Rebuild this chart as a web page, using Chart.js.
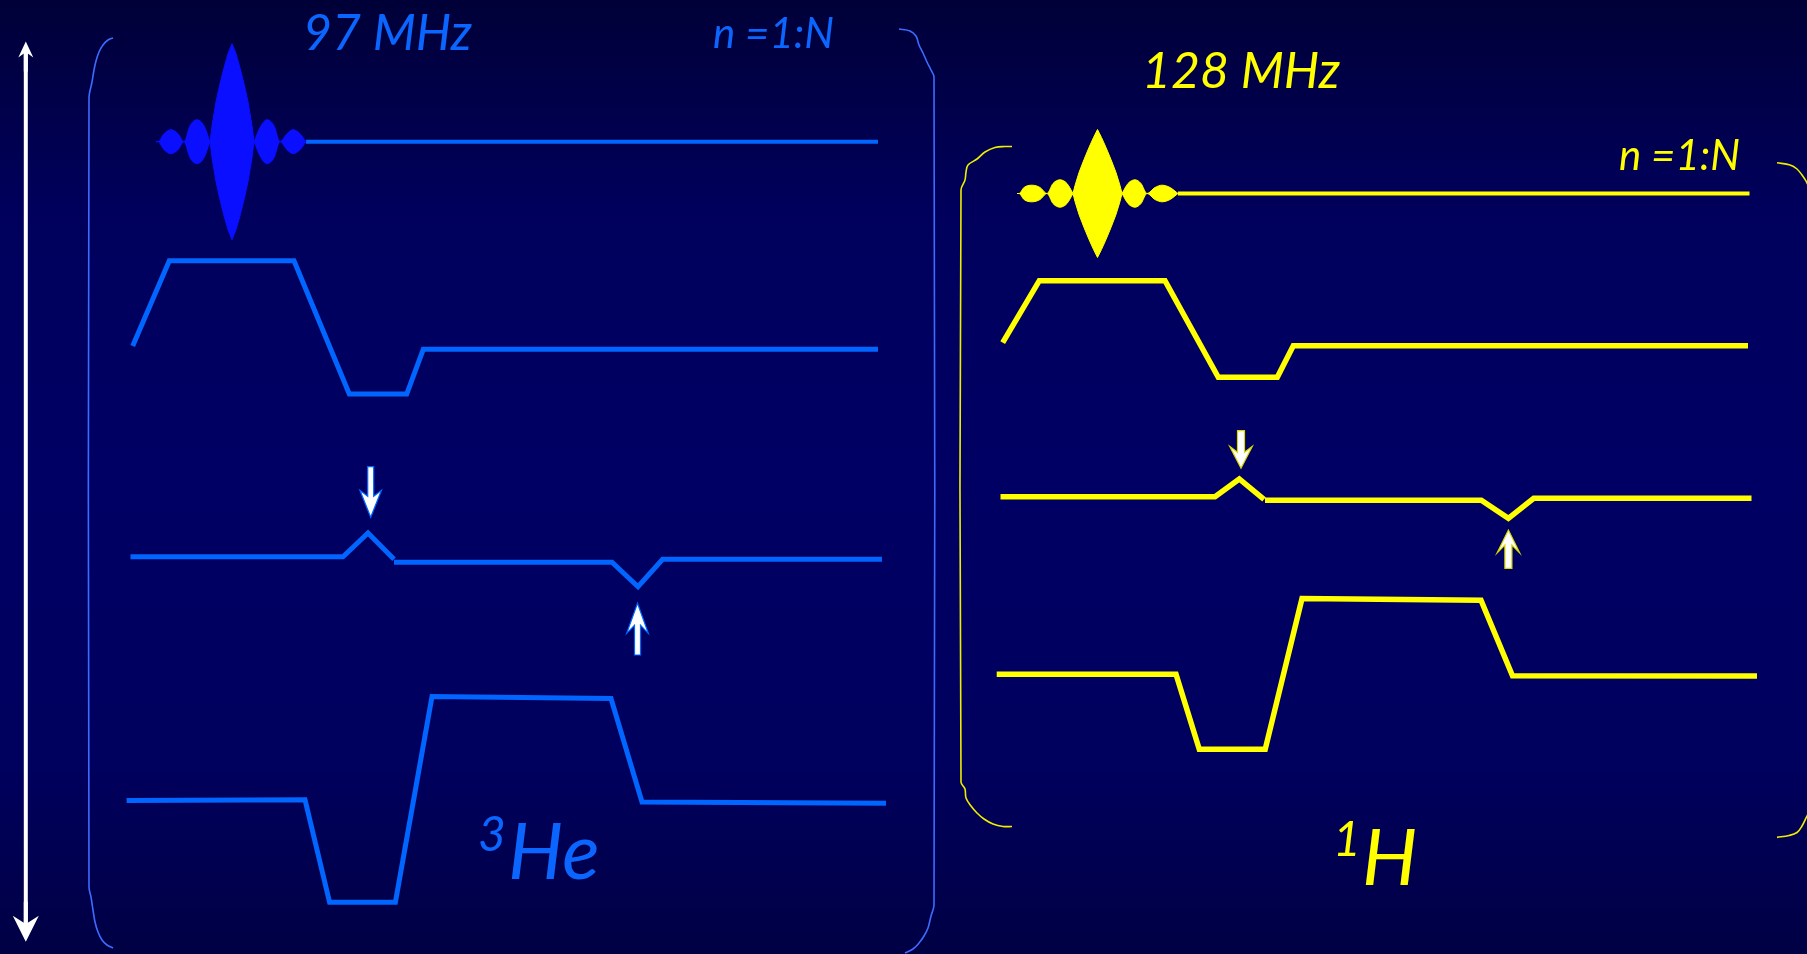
<!DOCTYPE html>
<html>
<head>
<meta charset="utf-8">
<script src="https://cdn.jsdelivr.net/npm/chart.js@4.4.1/dist/chart.umd.min.js"></script>
<style>
  html, body { margin: 0; padding: 0; overflow: hidden; background: #00005a; }
  #wrap { width: 1807px; height: 954px; position: relative; }
</style>
</head>
<body>
<div id="wrap"><canvas id="seq"></canvas></div>
<script>
// Pulse-sequence diagram. x = time axis, y = vertical position on the page (downwards).

// ---------- 3He channel (97 MHz, blue) ----------
// RF envelope: side lobes are rounded, the main lobe is lens shaped with pointed ends
const heRfSideT   = [156,158,164,171,178,184,190,197,204,210];
const heRfSideEnv = [0,0,8,12,8,0,16,22,16,0];
const heRfMainT   = [210,212,216,220,224,228,232,236,240,244,248,252,254];
const heRfMainEnv = [0,16,40,58,74,88,98,88,74,58,40,16,0];
const heRfTailT   = [254,261,267,274,280,287,293,300,306];
const heRfTailEnv = [0,16,22,16,0,8,12,8,0];
const heRfBase  = 141.7;
const heRfLineT = [306, 878];

const heGradT = [132.7, 169.3, 294, 349.3, 406.7, 423.3, 878];
const heGradY = [346, 260.7, 260.7, 394, 394, 349.3, 349.3];

const heEchoT = [130.5, 343, 368, 394, 394, 394, 612, 638, 662.6, 882];
const heEchoY = [556.7, 556.7, 533, 559.3, null, 562.3, 562.3, 586.7, 559.3, 559.3];

const heReadT = [126.6, 305, 329.6, 395.4, 432, 611, 642, 886];
const heReadY = [800.5, 799.7, 902.3, 902.3, 696.5, 698.5, 802, 803.3];

const heBraceLT = [113, 108, 103, 99, 96, 94, 92, 89, 89, 91, 93, 95, 98, 102, 107, 113];
const heBraceLY = [38, 40, 45, 52, 61, 70, 82, 98, 887, 897, 910, 922, 932, 940, 945, 948];
const heBraceRT = [899, 910, 916, 919, 923, 927, 931, 934, 934, 931, 928, 924, 919, 913, 905];
const heBraceRY = [29, 31, 36, 45, 53, 62, 70, 77, 905, 916, 928, 936, 943, 949, 953];

const heMarkT    = [370.7, 637.5];
const heMarkTip  = [517.3, 603.3];
const heMarkTail = [466.7, 655];

// ---------- 1H channel (128 MHz, yellow) ----------
const hRfSideT   = [1017,1019,1024,1032,1040,1047,1053,1060,1067,1073];
const hRfSideEnv = [0,0,6,8.3,6,0,10,13.7,10,0];
const hRfMainT   = [1073,1075,1079,1084,1089,1093.5,1097.5,1101.5,1106,1111,1116,1120,1122];
const hRfMainEnv = [0,8,21,34,46,56,64,56,46,34,21,8,0];
const hRfTailT   = [1122,1128,1135,1141,1147,1155,1162,1170,1178];
const hRfTailEnv = [0,10,13.7,10,0,6,8.3,6,0];
const hRfBase  = 193.5;
const hRfLineT = [1178, 1749.5];

const hGradT = [1002.7, 1039.3, 1165, 1218.3, 1277.3, 1293.3, 1748];
const hGradY = [342.7, 280.7, 280.7, 377.3, 377.3, 345.7, 345.7];

const hEchoT = [1000.5, 1215, 1239.3, 1264, 1265, 1265, 1481.3, 1508.4, 1533.7, 1751.5];
const hEchoY = [496.7, 496.7, 479, 499.3, null, 500.3, 500.3, 518.3, 498.3, 498.3];

const hReadT = [996.7, 1176, 1199.3, 1265.2, 1302, 1481, 1512.5, 1757];
const hReadY = [674.3, 674.3, 749.3, 749.3, 598.5, 600.3, 675.7, 676];

const hBraceLT = [1012, 1005, 995, 985, 977, 968, 966, 965, 961, 961, 965, 966, 971, 977, 984, 993, 1003, 1012];
const hBraceLY = [146.5, 146.5, 147.5, 152, 159, 165, 172, 180, 190, 782, 789, 798, 806, 813, 819, 824, 826.5, 826.5];
const hBraceRT = [1777, 1790, 1797, 1802, 1806, 1810, 1810, 1806, 1802, 1797, 1789, 1777];
const hBraceRY = [162.7, 165, 169, 175, 181, 192, 808, 818, 826, 832.5, 835.5, 837.4];

const hMarkT    = [1241, 1508.4];
const hMarkTip  = [468.3, 530];
const hMarkTail = [430.7, 568.3];

// ---------- Labels ----------
const labels = [
  { text: '97 MHz',  t: 303,  y: 50,  size: 50, color: '#0a66ff' },
  { text: 'n =1:N',  t: 713,  y: 48,  size: 42, color: '#0a66ff' },
  { text: '128 MHz', t: 1142, y: 88,  size: 50, color: '#ffff00' },
  { text: 'n =1:N',  t: 1619, y: 170, size: 42, color: '#ffff00' }
];
const nuclei = [
  { sup: '3', base: 'He', t: 478,  supY: 851, baseT: 508,  y: 879, color: '#0a66ff' },
  { sup: '1', base: 'H',  t: 1333, supY: 856, baseT: 1362, y: 885, color: '#ffff00' }
];

// Time axis arrow on the left
const axisT = 25.8, axisTop = 41.4, axisBottom = 941.8;

const BLUE = '#0066ff', BLUE_RF = '#0a0fff', BLUE_BRACE = '#3d6bff';
const YELLOW = '#ffff00', YELLOW_BRACE = '#eeee00';

function pts(xs, ys) { return xs.map((x, i) => ({ x: x, y: ys[i] })); }

function trace(xs, ys, color, width) {
  return {
    data: pts(xs, ys), borderColor: color, borderWidth: width, fill: false,
    tension: 0, spanGaps: false, clip: false, pointRadius: 0,
    borderJoinStyle: 'miter', borderCapStyle: 'butt'
  };
}
function brace(xs, ys, color) {
  return {
    data: pts(xs, ys), borderColor: color, borderWidth: 1.6, fill: false,
    tension: 0.35, clip: false, pointRadius: 0
  };
}
// filled envelope between base-env and base+env
function rfPulse(ts, env, base, color, smooth) {
  const common = {
    borderColor: color, borderWidth: 1, clip: false, pointRadius: 0,
    cubicInterpolationMode: smooth ? 'monotone' : 'default', tension: 0
  };
  return [
    Object.assign({ data: ts.map((t, i) => ({ x: t, y: base - env[i] })), backgroundColor: color, fill: '+1' }, common),
    Object.assign({ data: ts.map((t, i) => ({ x: t, y: base + env[i] })), fill: false }, common)
  ];
}

const datasets = [
  brace(heBraceLT, heBraceLY, BLUE_BRACE),
  brace(heBraceRT, heBraceRY, BLUE_BRACE),
  brace(hBraceLT, hBraceLY, YELLOW_BRACE),
  brace(hBraceRT, hBraceRY, YELLOW_BRACE),
  ...rfPulse(heRfSideT, heRfSideEnv, heRfBase, BLUE_RF, true),
  ...rfPulse(heRfMainT, heRfMainEnv, heRfBase, BLUE_RF, false),
  ...rfPulse(heRfTailT, heRfTailEnv, heRfBase, BLUE_RF, true),
  trace(heRfLineT, [heRfBase, heRfBase], BLUE, 4),
  trace(heGradT, heGradY, BLUE, 5),
  trace(heEchoT, heEchoY, BLUE, 5),
  trace(heReadT, heReadY, BLUE, 5),
  ...rfPulse(hRfSideT, hRfSideEnv, hRfBase, YELLOW, true),
  ...rfPulse(hRfMainT, hRfMainEnv, hRfBase, YELLOW, false),
  ...rfPulse(hRfTailT, hRfTailEnv, hRfBase, YELLOW, true),
  trace(hRfLineT, [hRfBase, hRfBase], YELLOW, 4),
  trace(hGradT, hGradY, YELLOW, 5.5),
  trace(hEchoT, hEchoY, YELLOW, 5.5),
  trace(hReadT, hReadY, YELLOW, 5.5)
];

// Dark navy page background
const backdrop = {
  id: 'backdrop',
  beforeDraw(chart) {
    const { ctx, width, height } = chart;
    const g = ctx.createLinearGradient(0, 0, 0, height);
    g.addColorStop(0, '#000038');
    g.addColorStop(0.22, '#00005c');
    g.addColorStop(0.5, '#000064');
    g.addColorStop(0.8, '#00005e');
    g.addColorStop(1, '#000044');
    ctx.save();
    ctx.fillStyle = g;
    ctx.fillRect(0, 0, width, height);
    ctx.restore();
  }
};

// Block arrow with a notched head; tip and tail in pixels
function blockArrow(ctx, x, tip, tail, headLen, headHalf, shaftHalf, notch, fill, stroke) {
  const dir = Math.sign(tip - tail);
  const hb = tip - dir * headLen;
  ctx.beginPath();
  ctx.moveTo(x - shaftHalf, tail);
  ctx.lineTo(x - shaftHalf, hb + dir * notch);
  ctx.lineTo(x - headHalf, hb);
  ctx.lineTo(x, tip);
  ctx.lineTo(x + headHalf, hb);
  ctx.lineTo(x + shaftHalf, hb + dir * notch);
  ctx.lineTo(x + shaftHalf, tail);
  ctx.closePath();
  ctx.fillStyle = fill;
  ctx.fill();
  if (stroke) { ctx.lineWidth = 1.2; ctx.strokeStyle = stroke; ctx.stroke(); }
}

const annotations = {
  id: 'annotations',
  afterDatasetsDraw(chart) {
    const { ctx } = chart;
    const sx = chart.scales.x, sy = chart.scales.y;
    const X = v => sx.getPixelForValue(v), Y = v => sy.getPixelForValue(v);
    ctx.save();

    // echo markers
    heMarkT.forEach((t, i) => {
      const down = heMarkTip[i] > heMarkTail[i];
      blockArrow(ctx, X(t), Y(heMarkTip[i]), Y(heMarkTail[i]), down ? 27 : 30, 10.8, 3, down ? 6 : 8, '#ffffff', BLUE);
    });
    hMarkT.forEach((t, i) => {
      const down = hMarkTip[i] > hMarkTail[i];
      blockArrow(ctx, X(t), Y(hMarkTip[i]), Y(hMarkTail[i]), down ? 22 : 23, 11.3, 3.5, down ? 6 : 8, '#ffffff', '#d8d800');
    });

    // vertical double arrow
    const ax = X(axisT);
    ctx.fillStyle = '#ffffff';
    ctx.fillRect(ax - 2, Y(axisTop) + 8, 4, Y(axisBottom) - Y(axisTop) - 16);
    blockArrow(ctx, ax, Y(axisTop), Y(axisTop) + 30, 16, 7.5, 2, 4, '#ffffff', null);
    blockArrow(ctx, ax, Y(axisBottom), Y(axisBottom) - 40, 26, 13, 2, 7, '#ffffff', null);

    // labels
    ctx.textBaseline = 'alphabetic';
    ctx.textAlign = 'left';
    labels.forEach(l => {
      ctx.font = 'italic ' + l.size + 'px Lato, "Open Sans", sans-serif';
      ctx.fillStyle = l.color;
      ctx.fillText(l.text, X(l.t), Y(l.y));
    });
    nuclei.forEach(n => {
      ctx.fillStyle = n.color;
      ctx.font = 'italic 48px Lato, "Open Sans", sans-serif';
      ctx.fillText(n.sup, X(n.t), Y(n.supY));
      ctx.font = 'italic 78px Lato, "Open Sans", sans-serif';
      ctx.fillText(n.base, X(n.baseT), Y(n.y));
    });
    ctx.restore();
  }
};

new Chart(document.getElementById('seq'), {
  type: 'line',
  data: { datasets: datasets },
  options: {
    responsive: true,
    maintainAspectRatio: false,
    animation: false,
    layout: { padding: 0 },
    scales: {
      x: { type: 'linear', min: 0, max: 1807, display: false },
      y: { type: 'linear', min: 0, max: 954, reverse: true, display: false }
    },
    plugins: { legend: { display: false }, tooltip: { enabled: false } },
    elements: { point: { radius: 0 } }
  },
  plugins: [backdrop, annotations]
});
</script>
</body>
</html>
